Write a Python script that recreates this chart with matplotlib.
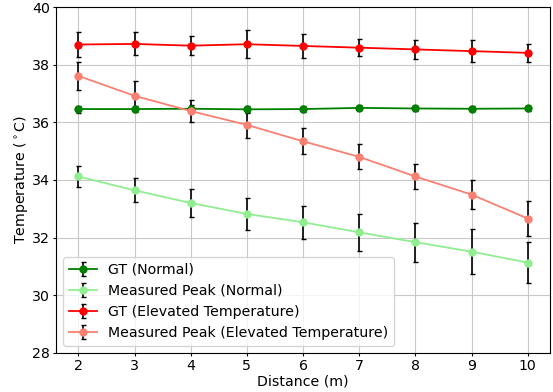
import numpy as np
from matplotlib import pyplot as plt

distance = [2, 3, 4, 5, 6, 7, 8, 9, 10]

gt_normal = [36.46, 36.46, 36.47, 36.45, 36.46, 36.50, 36.48, 36.47, 36.48]
gt_normal_err = [0.12, 0.10, 0.12, 0.11, 0.10, 0.09, 0.10, 0.09, 0.10]

peak_normal = [34.12, 33.64, 33.20, 32.82, 32.53, 32.18, 31.84, 31.51, 31.13]
peak_normal_err = [0.37, 0.42, 0.48, 0.55, 0.57, 0.65, 0.68, 0.77, 0.72]

gt_elev = [38.70, 38.72, 38.66, 38.71, 38.65, 38.59, 38.53, 38.47, 38.41]
gt_elev_err = [0.44, 0.40, 0.34, 0.48, 0.41, 0.29, 0.34, 0.37, 0.32]

peak_elev = [37.61, 36.92, 36.39, 35.91, 35.34, 34.80, 34.12, 33.49, 32.66]
peak_elev_err = [0.50, 0.50, 0.38, 0.45, 0.45, 0.43, 0.45, 0.50, 0.60]

plt.rcParams['font.size'] = 10.2
plt.rcParams['xtick.major.size'] = 2.2
plt.rcParams['ytick.major.size'] = 2.2
plt.rcParams['xtick.major.pad'] = 2.2
plt.rcParams['ytick.major.pad'] = 2.2

plt.figure(figsize=(5.53, 3.92), dpi=100)

style = dict(marker='o', markersize=5, ecolor='black', capsize=1.8, linewidth=1.3, elinewidth=1.2)
plt.errorbar(distance, gt_normal, yerr=gt_normal_err, label='GT (Normal)', color='green', **style)
plt.errorbar(distance, peak_normal, yerr=peak_normal_err, label='Measured Peak (Normal)',
             color='lightgreen', **style)
plt.errorbar(distance, gt_elev, yerr=gt_elev_err, label='GT (Elevated Temperature)', color='red', **style)
plt.errorbar(distance, peak_elev, yerr=peak_elev_err, label='Measured Peak (Elevated Temperature)',
             color='salmon', **style)

plt.xlabel('Distance (m)', labelpad=1)
plt.ylabel('Temperature ($^\\circ$C)', labelpad=1)
plt.ylim(28, 40)
plt.xticks(distance)
plt.legend(loc='lower left')
plt.grid(True, color='#c8c8c8')
plt.subplots_adjust(left=0.101, right=0.995, top=0.982, bottom=0.1)
plt.savefig('out.png')
plt.close()
